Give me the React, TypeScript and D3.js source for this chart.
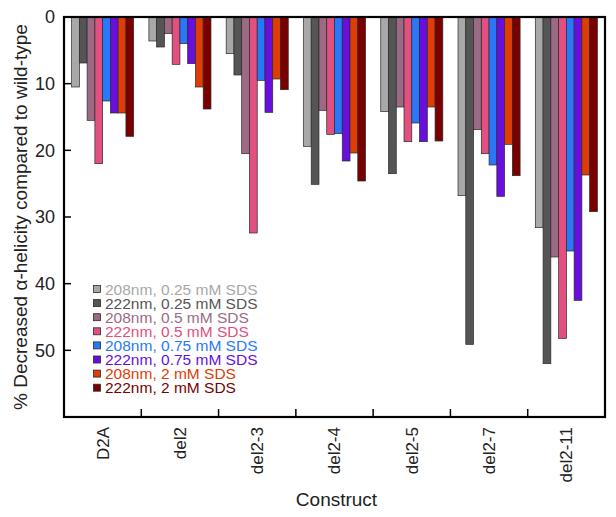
import { useEffect, useRef } from 'react';
import * as d3 from 'd3';

const constructs = ['D2A', 'del2', 'del2-3', 'del2-4', 'del2-5', 'del2-7', 'del2-11'];

const seriesNames = [
  '208nm, 0.25 mM SDS',
  '222nm, 0.25 mM SDS',
  '208nm, 0.5 mM SDS',
  '222nm, 0.5 mM SDS',
  '208nm, 0.75 mM SDS',
  '222nm, 0.75 mM SDS',
  '208nm, 2 mM SDS',
  '222nm, 2 mM SDS',
];

// one array per series, values in construct order
const s208_025 = [10.5, 3.6, 5.5, 19.4, 14.2, 26.8, 31.6];
const s222_025 = [6.9, 4.5, 8.7, 25.1, 23.5, 49.1, 52.0];
const s208_05 = [15.5, 2.5, 20.5, 14.0, 13.5, 16.9, 36.0];
const s222_05 = [22.0, 7.1, 32.4, 17.6, 18.7, 20.5, 48.2];
const s208_075 = [12.6, 4.0, 9.5, 17.5, 15.9, 22.2, 35.1];
const s222_075 = [14.4, 7.0, 14.3, 21.6, 18.7, 26.9, 42.5];
const s208_2 = [14.4, 10.5, 9.3, 20.4, 13.5, 19.1, 23.7];
const s222_2 = [17.9, 13.8, 10.9, 24.6, 18.6, 23.8, 29.2];

const seriesValues = [s208_025, s222_025, s208_05, s222_05, s208_075, s222_075, s208_2, s222_2];

const colors = ['#a8a8a8', '#555555', '#9c6a84', '#e2507f', '#2a78fa', '#680fde', '#e03c06', '#7a0000'];

const yTicks = [0, 10, 20, 30, 40, 50];

export default function App() {
  const svgRef = useRef<SVGSVGElement>(null);

  useEffect(() => {
    const W = 616;
    const H = 517;
    const margin = { top: 17, right: 11, bottom: 100, left: 64 };
    const width = W - margin.left - margin.right;
    const height = H - margin.top - margin.bottom;
    const font = "'Liberation Sans', Arial, sans-serif";

    const root = d3.select(svgRef.current);
    root.selectAll('*').remove();

    const svg = root
      .append('g')
      .attr('transform', `translate(${margin.left},${margin.top})`);

    const x0 = d3.scaleBand().domain(constructs).range([0, width]).padding(0);
    const x1 = d3
      .scaleBand()
      .domain(seriesNames)
      .range([7.6, x0.bandwidth() - 7.6])
      .padding(0);

    // inverted axis: 0 at top, bars hang down
    const y = d3.scaleLinear().domain([0, 60]).range([0, height]);

    // bars
    seriesNames.forEach((name, si) => {
      svg
        .append('g')
        .selectAll('rect')
        .data(seriesValues[si])
        .enter()
        .append('rect')
        .attr('x', (d, i) => (x0(constructs[i]) as number) + (x1(name) as number))
        .attr('y', y(0))
        .attr('width', x1.bandwidth())
        .attr('height', (d) => y(d) - y(0))
        .attr('fill', colors[si])
        .attr('stroke', '#2a2a2a')
        .attr('stroke-width', 0.7);
    });

    // frame
    svg
      .append('rect')
      .attr('x', 0)
      .attr('y', 0)
      .attr('width', width)
      .attr('height', height)
      .attr('fill', 'none')
      .attr('stroke', '#000')
      .attr('stroke-width', 2.2);

    // y ticks, inward
    const yAxis = svg.append('g');
    yAxis
      .selectAll('line')
      .data(yTicks)
      .enter()
      .append('line')
      .attr('x1', 0)
      .attr('x2', 7)
      .attr('y1', (d) => y(d))
      .attr('y2', (d) => y(d))
      .attr('stroke', '#000')
      .attr('stroke-width', 1.5);
    yAxis
      .selectAll('text')
      .data(yTicks)
      .enter()
      .append('text')
      .attr('x', -9)
      .attr('y', (d) => y(d))
      .attr('dy', '0.35em')
      .attr('text-anchor', 'end')
      .style('font-family', font)
      .style('font-size', '18px')
      .style('fill', '#222')
      .text((d) => d);

    // x ticks at category boundaries, inward
    svg
      .append('g')
      .selectAll('line')
      .data(constructs.slice(1))
      .enter()
      .append('line')
      .attr('x1', (d) => x0(d) as number)
      .attr('x2', (d) => x0(d) as number)
      .attr('y1', height)
      .attr('y2', height - 8)
      .attr('stroke', '#000')
      .attr('stroke-width', 1.5);

    // category labels, rotated
    svg
      .append('g')
      .selectAll('text')
      .data(constructs)
      .enter()
      .append('text')
      .attr('transform', (d) => `translate(${(x0(d) as number) + x0.bandwidth() / 2},${height + 10}) rotate(-90)`)
      .attr('dy', '0.35em')
      .attr('text-anchor', 'end')
      .style('font-family', font)
      .style('font-size', '17px')
      .style('fill', '#222')
      .text((d) => d);

    // axis titles
    svg
      .append('text')
      .attr('x', width / 2 + 2)
      .attr('y', height + 89)
      .attr('text-anchor', 'middle')
      .style('font-family', font)
      .style('font-size', '19px')
      .style('fill', '#222')
      .text('Construct');

    svg
      .append('text')
      .attr('transform', `translate(${27 - margin.left},${height / 2}) rotate(-90)`)
      .attr('text-anchor', 'middle')
      .style('font-family', font)
      .style('font-size', '19px')
      .style('fill', '#222')
      .text('% Decreased α-helicity compared to wild-type');

    // legend
    const legend = svg
      .append('g')
      .attr('transform', `translate(${93 - margin.left},${289 - margin.top})`);

    const items = legend
      .selectAll('g')
      .data(seriesNames)
      .enter()
      .append('g')
      .attr('transform', (d, i) => `translate(0,${i * 14.1})`);

    items
      .append('rect')
      .attr('x', 0.5)
      .attr('y', -3.5)
      .attr('width', 7)
      .attr('height', 7)
      .attr('fill', (d, i) => colors[i])
      .attr('stroke', '#2a2a2a')
      .attr('stroke-width', 0.8);

    items
      .append('text')
      .attr('x', 12)
      .attr('y', 0)
      .attr('dy', '0.36em')
      .style('font-family', font)
      .style('font-size', '15.5px')
      .style('fill', (d, i) => colors[i])
      .text((d) => d);
  }, []);

  return (
    <svg
      ref={svgRef}
      width={616}
      height={517}
      style={{ position: 'absolute', left: 0, top: 0, background: '#fff' }}
    />
  );
}
